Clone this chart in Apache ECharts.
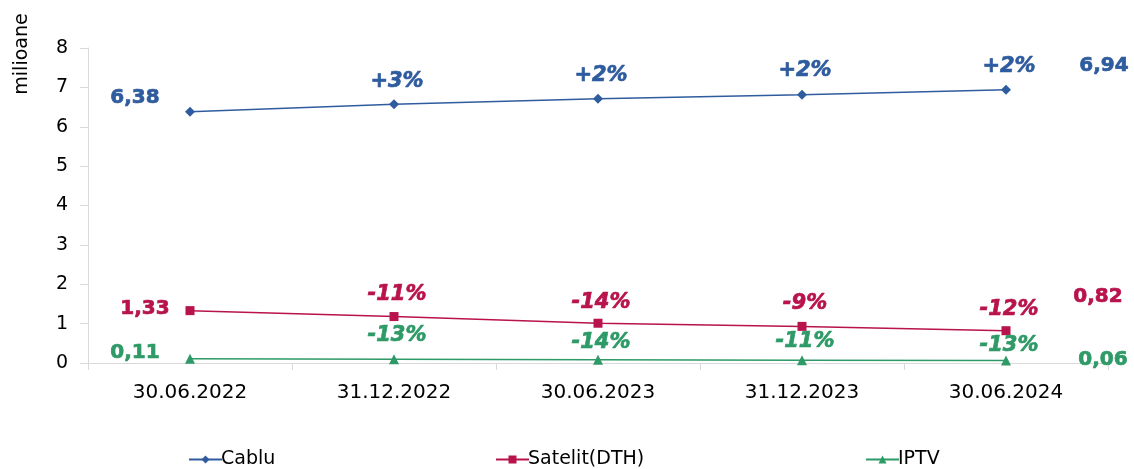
<!DOCTYPE html>
<html>
<head>
<meta charset="utf-8">
<script src="https://cdn.jsdelivr.net/npm/echarts@6/dist/echarts.min.js"></script>
<style>html,body{margin:0;padding:0;background:#fff}#c{width:1134px;height:469px}</style>
</head>
<body>
<div id="c"></div>
<script>
const categories = ['30.06.2022', '31.12.2022', '30.06.2023', '31.12.2023', '30.06.2024'];
const cabluValues = [6.38, 6.57, 6.71, 6.81, 6.94];
const satelitValues = [1.33, 1.18, 1.01, 0.93, 0.82];
const iptvValues = [0.11, 0.096, 0.083, 0.073, 0.064];
const cabluChanges = ['', '+3%', '+2%', '+2%', '+2%'];
const satelitChanges = ['', '-11%', '-14%', '-9%', '-12%'];
const iptvChanges = ['', '-13%', '-14%', '-11%', '-13%'];
const yMin = 0, yMax = 8, yStep = 1;
const seriesNames = ['Cablu', 'Satelit(DTH)', 'IPTV'];

// label placement (styling only)
const cabluLift = [0, 23, 23, 24, 23];
const satelitLift = [0, 22, 21, 23, 21];
const iptvLift = [0, 24, 17, 19, 15];

const FONT = 'DejaVu Sans';
const fmt = v => v.toFixed(2).replace('.', ',');

function boldStyle(color, size, italic) {
  return { color: color, fontFamily: FONT, fontWeight: 700, fontSize: size,
    fontStyle: italic ? 'italic' : 'normal',
    textBorderColor: color, textBorderWidth: 0.7 };
}

function buildData(values, changes, lifts, color, startOffset) {
  return values.map((v, i) => {
    let label;
    if (i === 0) {
      label = Object.assign({ show: true, position: 'inside', offset: startOffset,
        formatter: fmt(v) }, boldStyle(color, 20, false));
    } else {
      label = Object.assign({ show: true, position: 'inside', offset: [3, -lifts[i]],
        formatter: changes[i] }, boldStyle(color, 21, true));
    }
    return { value: v, label: label };
  });
}

function endSeries(values, name, color, endOffset) {
  const last = values.length - 1;
  return {
    name: name + '_end', type: 'line',
    data: values.map((v, i) => i === last ? {
      value: v, label: Object.assign({ show: true, position: 'inside', offset: endOffset,
        formatter: fmt(v) }, boldStyle(color, 20, false)) } : '-'),
    symbol: 'circle', symbolSize: 2, showSymbol: true,
    itemStyle: { color: 'rgba(0,0,0,0)' },
    lineStyle: { opacity: 0 }, silent: true, z: 1, legendHoverLink: false
  };
}

const cBlue = '#2F5C9E', cRed = '#B8134C', cGreen = '#2E9A67';

const chart = echarts.init(document.getElementById('c'), null, { renderer: 'canvas' });
chart.setOption({
  animation: false,
  backgroundColor: '#fff',
  grid: { left: 88, right: 26, top: 48, bottom: 106, containLabel: false },
  xAxis: {
    type: 'category', data: categories, boundaryGap: true,
    axisLine: { lineStyle: { color: '#D9D9D9', width: 1 } },
    axisTick: { show: true, length: 7, lineStyle: { color: '#D9D9D9' }, alignWithLabel: false },
    axisLabel: { margin: 20, fontFamily: FONT, fontSize: 20, color: '#000' },
    splitLine: { show: false }
  },
  yAxis: {
    type: 'value', min: yMin, max: yMax, interval: yStep,
    axisLine: { show: true, lineStyle: { color: '#D9D9D9', width: 1 } },
    axisTick: { show: true, length: 8, lineStyle: { color: '#D9D9D9' } },
    axisLabel: { margin: 20, fontFamily: FONT, fontSize: 19, color: '#000' },
    splitLine: { show: false }
  },
  graphic: [{
    type: 'text', x: 22, y: 54, rotation: Math.PI / 2,
    style: { text: 'milioane', fontFamily: FONT, fontSize: 19, fill: '#000',
      textAlign: 'center', textVerticalAlign: 'middle' }
  }],
  legend: [
    { data: [seriesNames[0]], left: 183, top: 445 },
    { data: [seriesNames[1]], left: 490, top: 445 },
    { data: [seriesNames[2]], left: 860, top: 445 }
  ].map(l => Object.assign(l, {
    itemWidth: 33, itemHeight: 10, itemGap: 4,
    textStyle: { fontFamily: FONT, fontSize: 19, color: '#000', padding: [0, 0, 0, -6] }
  })),
  series: [
    {
      name: seriesNames[0], type: 'line',
      data: buildData(cabluValues, cabluChanges, cabluLift, cBlue, [-55, -14]),
      symbol: 'diamond', symbolSize: 10,
      lineStyle: { color: cBlue, width: 1.5 }, itemStyle: { color: cBlue }, z: 3
    },
    {
      name: seriesNames[1], type: 'line',
      data: buildData(satelitValues, satelitChanges, satelitLift, cRed, [-45, -2]),
      symbol: 'rect', symbolSize: 9,
      lineStyle: { color: cRed, width: 1.5 }, itemStyle: { color: cRed }, z: 3
    },
    {
      name: seriesNames[2], type: 'line',
      data: buildData(iptvValues, iptvChanges, iptvLift, cGreen, [-55, -6]),
      symbol: 'triangle', symbolSize: 10,
      lineStyle: { color: cGreen, width: 1.5 }, itemStyle: { color: cGreen }, z: 3
    },
    endSeries(cabluValues, 'Cablu', cBlue, [98, -24]),
    endSeries(satelitValues, 'Satelit', cRed, [92, -34]),
    endSeries(iptvValues, 'IPTV', cGreen, [97, -1])
  ]
});
</script>
</body>
</html>
